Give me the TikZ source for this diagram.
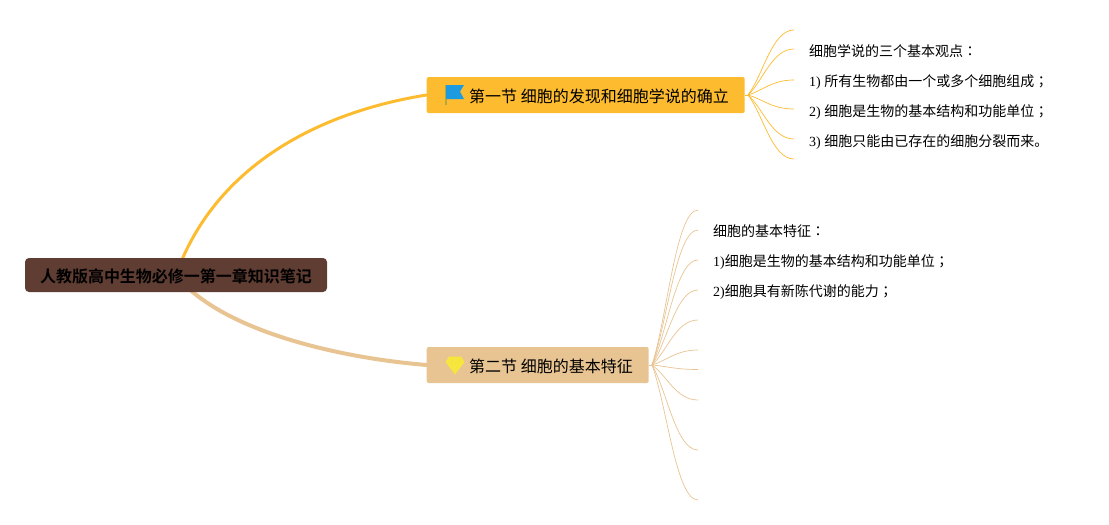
\documentclass[tikz,border=0pt]{standalone}
\usepackage{fontspec}
\setmainfont{Liberation Serif}
\newfontfamily\cjk{Noto Sans CJK SC}
\newfontfamily\cjkp{Noto Sans CJK TC}
\newfontfamily\cjkb{Noto Sans CJK SC Bold}
\usetikzlibrary{calc,backgrounds}
\definecolor{rootbg}{HTML}{5F3D32}
\definecolor{sunc}{HTML}{FDBB30}
\definecolor{sandc}{HTML}{E8C492}
\definecolor{flagblue}{HTML}{1C9BE0}
\definecolor{flagpole}{HTML}{B5A83E}
\definecolor{gemc}{HTML}{F7E63C}
\tikzset{
  rootbox/.style={fill=rootbg,rounded corners=4pt,minimum width=302pt,minimum height=34pt,inner sep=0pt},
  roottext/.style={inner sep=0pt,font=\cjkb\fontsize{16}{16}\selectfont,text=black},
  secbox/.style={rounded corners=2pt,minimum height=36pt,inner sep=0pt,anchor=west},
  sectext/.style={anchor=west,inner sep=0pt,font=\cjk\fontsize{16}{16}\selectfont,text=black},
  leaf/.style={anchor=west,inner sep=0pt,font=\fontsize{14}{14}\selectfont,text=black},
  mainlink/.style={line cap=round},
  twig/.style={line width=0.7pt}
}
\newcommand{\twigs}[3]{%
  \foreach \n in {#3}{
    \draw[twig,#2] (#1) .. controls ($(#1)!.3!(#1|-\n)+(15,0)$) and ($(\n)+(-22,0)$) .. (\n);
  }
}
\newcommand{\zh}[1]{{\cjk #1}}
\newcommand{\zp}[1]{{\cjkp #1}}
\begin{document}
\begin{tikzpicture}[x=1pt,y=-1pt]
\useasboundingbox (0,0) rectangle (1109,525);
\node[rootbox] (root) at (176,275) {};
\node[roottext] (roott) at (176,276) {人教版高中生物必修一第一章知识笔记};
\node[secbox,fill=sunc,minimum width=318pt] (s1) at (426.5,95) {};
\node[secbox,fill=sandc,minimum width=222pt] (s2) at (426.5,365) {};
\node[sectext] (s1t) at (469,96) {第一节 细胞的发现和细胞学说的确立};
\node[sectext] (s2t) at (469,366) {第二节 细胞的基本特征};
% flag icon
\fill[flagpole] (445,85) rectangle (446.5,105);
\fill[flagblue] (446,85) -- (464,85) -- (460,91.5) -- (464,99) -- (446,99) -- cycle;
% gem icon
\fill[gemc] (449,356.5) -- (461,356.5) -- (464.5,362) -- (455,374.5) -- (445.5,362) -- cycle;
\draw[line width=0.3pt,sandc!50!yellow] (445.5,362) -- (464.5,362) (451,362) -- (455,374.5) -- (459,362) (449,356.5) -- (451,362) -- (455,356.5) -- (459,362) -- (461,356.5);
% leaf text
\node[leaf] (a0) at (809,51.6) {\zh{细胞学说的三个基本观点}\zp{：}};
\node[leaf] (a1) at (809,81.6) {1) \zh{所有生物都由一个或多个细胞组成}\zp{；}};
\node[leaf] (a2) at (809,111.6) {2) \zh{细胞是生物的基本结构和功能单位}\zp{；}};
\node[leaf] (a3) at (809,141.6) {3) \zh{细胞只能由已存在的细胞分裂而来。}};
\node[leaf] (b0) at (713,231.6) {\zh{细胞的基本特征}\zp{：}};
\node[leaf] (b1) at (713,261.6) {1)\zh{细胞是生物的基本结构和功能单位}\zp{；}};
\node[leaf] (b2) at (713,291.6) {2)\zh{细胞具有新陈代谢的能力}\zp{；}};
% twig ends
\coordinate (p) at (748,95);
\coordinate (q) at (652,365);
\foreach \n/\y in {p1/30,p2/49,p3/80,p4/109,p5/139,p6/159}{\coordinate (\n) at (794,\y);}
\foreach \n/\y in {q1/210,q2/230,q3/260,q4/290,q5/320,q6/350,q7/369.5,q8/400,q9/450,q10/500}{\coordinate (\n) at (698,\y);}
\begin{pgfonlayer}{background}
\draw[mainlink,sunc,line width=3pt] (root.center) .. controls (215,165) and (320,112) .. (s1.west);
\draw[mainlink,sandc,line width=4pt] (root.center) .. controls (218,328) and (330,357) .. (s2.west);
\draw[sunc,line width=1pt] (s1.east) -- (p);
\draw[sandc,line width=1pt] (s2.east) -- (q);
\twigs{p}{sunc}{p1,p2,p3,p4,p5,p6}
\twigs{q}{sandc}{q1,q2,q3,q4,q5,q6,q7,q8,q9,q10}
\end{pgfonlayer}
\end{tikzpicture}
\end{document}
